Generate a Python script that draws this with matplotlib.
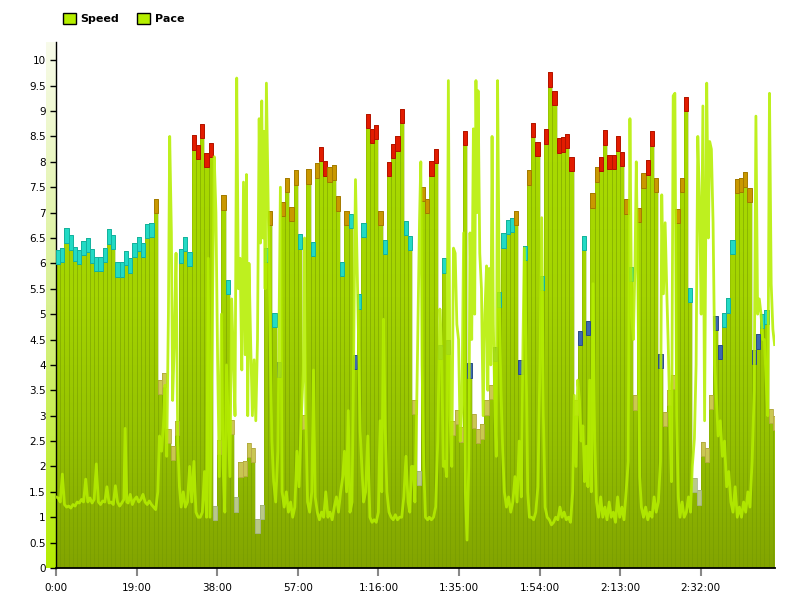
import matplotlib
matplotlib.use("Agg")
import matplotlib.pyplot as plt
import numpy as np
from matplotlib.patches import Patch, PathPatch
from matplotlib.path import Path
from matplotlib.colors import LinearSegmentedColormap, to_rgba

# speed, one bar per minute
speed = [6.27, 6.30, 6.69, 6.55, 6.33, 6.27, 6.45, 6.50, 6.29, 6.12, 6.12, 6.31,
         6.67, 6.56, 6.02, 6.02, 6.25, 6.10, 6.40, 6.52, 6.41, 6.77, 6.80, 7.27,
         3.71, 3.85, 2.74, 2.40, 2.90,
         6.29, 6.52, 6.23, 8.52, 8.34, 8.74, 8.18, 8.38,
         1.23, 2.52, 7.34, 5.68, 2.92, 1.39, 2.08, 2.10, 2.47, 2.36, 0.97, 1.25,
         6.31, 7.04, 5.02, 4.05, 7.21, 7.68, 7.11, 7.83, 6.57,
         3.01, 7.85, 6.42, 7.97, 8.30, 8.01, 7.89, 7.93, 7.32, 6.03, 7.04, 6.97,
         4.20, 5.39, 6.80, 8.94, 8.65, 8.72, 7.04, 6.47, 8.00, 8.36, 8.50, 9.04,
         6.84, 6.54, 3.31, 1.92,
         7.50, 7.27, 8.01, 8.25, 4.39, 6.10, 4.49, 2.90, 3.11, 2.77, 8.61, 4.03,
         3.03, 2.74, 2.83, 3.30, 3.60, 4.35, 5.43, 6.59, 6.86, 6.89, 7.04, 4.10,
         6.35, 7.83, 8.77, 8.40,
         5.76, 8.64, 9.76, 9.39, 8.46, 8.48, 8.55, 8.10, 3.30, 4.67, 6.54, 4.86,
         7.38, 7.89, 8.10, 8.62, 8.14, 8.14, 8.50, 8.20, 7.26, 5.93, 3.40, 7.09,
         7.77, 8.03, 8.60, 7.68, 4.22,
         3.07, 3.50, 3.80, 7.07, 7.69, 9.28, 5.51, 1.78, 1.53, 2.49, 2.37, 3.41,
         4.96, 4.39, 5.02, 5.31, 6.46, 7.66, 7.69, 7.79, 7.49, 4.30, 4.60, 5.00,
         5.08, 3.14, 3.00]

# pace samples (minute, value), by stretch of the ride
pace_a = [(0, 1.40), (0.5, 1.38), (1.0, 1.30), (1.5, 1.85), (2.0, 1.25), (2.5, 1.20),
          (3.0, 1.22), (3.5, 1.18), (4.0, 1.25), (4.5, 1.22), (5.0, 1.30), (5.5, 1.28),
          (6.0, 1.35), (6.5, 1.30), (7.0, 1.75), (7.5, 1.30), (8.0, 1.38), (8.5, 1.28),
          (9.0, 1.35), (9.5, 2.05), (10.0, 1.30), (10.5, 1.25), (11.0, 1.32), (11.5, 1.30),
          (12.0, 1.60), (12.5, 1.28), (13.0, 1.30), (13.5, 1.25), (14.0, 1.62), (14.5, 1.30),
          (15.0, 1.22), (15.5, 1.28), (16.0, 1.35), (16.3, 2.75), (16.7, 1.30), (17.0, 1.28),
          (17.5, 1.45), (18.0, 1.25), (18.5, 1.35), (19.0, 1.40), (19.5, 1.30), (20.0, 1.35),
          (20.5, 1.45), (21.0, 1.30), (21.5, 1.25), (22.0, 1.32), (22.5, 1.25), (23.0, 1.20),
          (23.5, 1.15)]
pace_b = [(24.0, 1.5), (24.4, 2.6), (24.9, 2.3), (25.3, 2.8), (25.7, 3.6), (26.1, 2.2),
          (26.5, 5.0), (26.8, 8.5), (27.2, 6.6), (27.5, 3.3), (27.9, 4.5), (28.3, 6.2),
          (28.7, 2.5), (29.1, 1.6), (29.5, 1.2), (30.0, 1.5), (30.5, 1.2), (31.0, 1.3),
          (31.5, 2.0), (32.0, 1.3), (32.5, 2.1), (33.0, 1.1), (33.5, 1.0), (34.0, 1.0),
          (34.5, 1.1), (35.0, 1.9), (35.5, 1.0), (35.9, 6.1), (36.3, 1.0), (36.8, 4.5),
          (37.3, 8.1), (37.7, 7.0), (38.1, 4.1), (38.5, 1.8), (39.0, 5.0), (39.4, 2.0),
          (39.8, 1.1), (40.2, 4.0), (40.6, 2.9), (41.0, 1.8), (41.4, 5.3), (41.8, 4.2),
          (42.2, 3.0), (42.6, 9.65), (43.0, 5.5), (43.4, 6.1), (43.8, 3.9), (44.2, 7.6),
          (44.6, 4.2), (44.9, 7.75), (45.2, 3.0), (45.5, 6.0), (45.9, 4.4), (46.3, 3.0),
          (46.7, 4.1), (47.1, 2.9), (47.5, 4.5), (47.9, 8.85), (48.2, 6.4), (48.5, 9.2),
          (48.8, 6.5), (49.0, 8.6), (49.3, 5.5), (49.6, 9.55), (50.0, 7.2), (50.4, 5.0),
          (50.9, 2.5), (51.3, 1.7), (51.8, 1.3), (52.3, 2.3), (52.9, 7.5), (53.3, 1.5),
          (53.8, 1.2), (54.3, 1.5), (54.8, 1.1), (55.3, 1.3), (55.8, 1.0), (56.3, 1.2),
          (56.8, 2.3)]
pace_c = [(57.3, 1.6), (57.8, 2.9), (58.3, 3.9), (58.6, 6.5), (58.9, 3.0), (59.3, 1.3),
          (59.8, 1.1), (60.3, 1.5), (60.7, 3.9), (61.1, 1.4), (61.6, 1.1), (62.1, 0.95),
          (62.6, 1.1), (63.1, 1.0), (63.6, 1.5), (64.1, 1.0), (64.6, 1.1), (65.1, 0.95),
          (65.6, 1.2), (66.1, 1.4), (66.6, 1.1), (67.1, 1.5), (67.6, 1.8), (68.0, 2.3),
          (68.5, 1.5), (68.9, 3.1), (69.3, 1.1), (69.8, 1.3), (70.2, 4.5), (70.6, 7.65),
          (71.0, 5.9), (71.3, 4.6), (71.7, 2.7), (72.1, 2.0), (72.5, 1.3), (73.0, 1.5),
          (73.5, 2.6), (74.0, 1.0), (74.5, 0.9), (75.0, 0.95), (75.5, 0.9), (76.0, 1.1),
          (76.4, 2.9), (76.8, 1.5), (77.2, 4.9), (77.6, 2.8), (78.0, 1.5), (78.5, 1.1),
          (79.0, 1.0), (79.5, 0.95), (80.0, 1.05), (80.5, 0.95), (81.0, 1.0), (81.5, 1.0),
          (82.0, 1.4), (82.5, 2.2), (83.0, 1.3), (83.4, 1.1), (83.8, 2.0), (84.2, 2.0),
          (84.6, 1.3), (85.0, 3.0), (85.4, 5.2), (85.7, 6.85), (86.0, 8.0), (86.3, 4.0)]
pace_d = [(86.7, 2.0), (87.1, 1.0), (87.6, 0.95), (88.0, 1.0), (88.5, 0.95), (89.0, 1.0),
          (89.5, 1.2), (90.0, 2.5), (90.5, 5.1), (90.9, 4.35), (91.3, 2.0), (91.7, 2.1),
          (92.1, 1.8), (92.5, 9.6), (92.9, 3.0), (93.3, 2.0), (93.7, 6.3), (94.1, 6.2),
          (94.5, 4.8), (94.9, 4.5), (95.3, 2.5), (95.7, 3.2), (96.1, 6.6), (96.5, 1.5),
          (96.9, 0.55), (97.3, 2.0), (97.6, 6.6), (98.0, 4.5), (98.4, 8.65), (98.7, 5.0),
          (99.0, 9.6), (99.3, 7.0), (99.5, 9.4), (99.9, 6.2), (100.3, 5.5), (100.7, 3.0),
          (101.1, 5.0), (101.5, 5.95), (101.8, 3.5), (102.1, 5.9), (102.5, 4.0), (102.8, 8.5),
          (103.1, 4.8), (103.5, 3.0), (103.8, 2.2), (104.1, 9.6), (104.5, 5.4), (104.9, 3.5),
          (105.3, 2.3), (105.7, 1.5), (106.2, 1.2), (106.7, 1.4), (107.2, 1.1), (107.7, 1.3),
          (108.2, 1.8), (108.7, 1.3), (109.2, 2.5), (109.7, 1.4), (110.1, 4.5), (110.4, 6.3),
          (110.8, 4.5), (111.2, 1.5), (111.6, 1.0), (112.1, 1.0), (112.6, 0.95), (113.1, 1.1),
          (113.6, 1.6)]
pace_e = [(114.1, 4.0), (114.5, 6.9), (114.9, 3.0), (115.3, 1.2), (115.8, 1.0), (116.3, 0.95),
          (116.8, 0.85), (117.3, 0.9), (117.8, 1.0), (118.3, 0.95), (118.8, 1.2), (119.3, 1.0),
          (119.8, 1.1), (120.3, 0.95), (120.8, 1.0), (121.3, 0.9), (121.8, 1.5), (122.2, 3.4),
          (122.6, 2.0), (123.0, 3.7), (123.4, 3.3), (123.8, 2.5), (124.2, 2.8), (124.6, 1.7),
          (125.0, 2.4), (125.4, 1.6), (125.8, 3.7), (126.2, 1.5), (126.6, 5.6), (127.0, 2.5),
          (127.4, 1.3), (127.9, 1.0), (128.4, 1.4), (128.9, 1.0), (129.4, 1.2), (129.9, 0.95),
          (130.4, 1.3), (130.9, 1.0), (131.4, 1.1), (131.9, 0.9), (132.4, 1.4), (132.9, 1.0),
          (133.4, 1.2), (133.9, 0.95), (134.4, 1.5), (134.9, 2.1), (135.3, 8.85), (135.7, 5.0),
          (136.1, 4.5), (136.5, 6.0), (136.8, 8.0), (137.2, 5.4), (137.6, 1.8), (138.0, 1.2),
          (138.5, 1.0), (139.0, 1.2), (139.5, 0.95), (140.0, 1.1), (140.5, 1.0), (141.0, 1.4),
          (141.5, 1.1), (142.0, 1.3), (142.5, 2.1)]
pace_f = [(142.8, 7.35), (143.2, 5.4), (143.6, 6.8), (144.0, 5.4), (144.3, 4.5), (144.7, 3.0),
          (145.1, 1.7), (145.5, 9.3), (145.9, 9.35), (146.3, 3.0), (146.7, 1.4), (147.1, 1.0),
          (147.6, 1.3), (148.1, 1.0), (148.6, 1.1), (149.1, 1.4), (149.6, 1.1), (150.0, 2.0),
          (150.5, 2.55), (150.9, 4.0), (151.3, 8.5), (151.7, 7.2), (152.1, 5.0), (152.5, 9.1),
          (152.9, 2.9), (153.4, 9.55), (153.8, 6.5), (154.1, 8.4), (154.5, 8.25), (154.9, 6.8),
          (155.3, 4.0), (155.7, 3.3), (156.1, 2.6), (156.6, 2.9), (157.1, 2.2), (157.6, 2.5),
          (158.1, 1.6), (158.6, 1.9), (159.1, 1.3), (159.6, 1.1), (160.1, 1.6), (160.6, 1.0),
          (161.1, 1.2), (161.6, 1.0), (162.1, 1.3), (162.6, 1.1), (163.1, 1.5), (163.6, 1.2),
          (164.1, 2.1), (164.6, 3.5), (165.0, 8.9), (165.4, 5.0), (165.8, 5.3), (166.2, 5.0),
          (166.6, 4.5), (167.0, 4.5), (167.4, 3.7), (167.8, 3.0), (168.2, 9.35), (168.6, 5.6),
          (169.0, 4.7), (169.4, 4.4)]

tick_min = [0, 19, 38, 57, 76, 95, 114, 133, 152]
tick_lbl = ["0:00", "19:00", "38:00", "57:00", "1:16:00", "1:35:00", "1:54:00", "2:13:00", "2:32:00"]

# speed zones for the bar caps
zone_edges = [2, 4, 5, 7, 7.99]
zone_face = ["#c9d1b8", "#d8c968", "#3d68b0", "#22dac4", "#c99800", "#e21c00"]
zone_line = ["#a9b39a", "#b8a948", "#2a4d88", "#12b2a0", "#a57a00", "#b41200"]
zone_alpha = [0.75, 0.8, 1, 1, 1, 1]

XMAX, YMAX = 169.5, 10.36
lime = "#b5ee00"

fig = plt.figure(figsize=(8, 6), dpi=100)
ax = fig.add_axes([56 / 800, 32 / 600, 719 / 800, 526 / 600])
ax.set_zorder(2)
ax.patch.set_alpha(0)

# bars with a vertical gradient
x = np.arange(len(speed))
bars = ax.bar(x, speed, width=1.0, align="edge", color="none", edgecolor="none", zorder=2)
paths = [b.get_path().transformed(b.get_patch_transform()) for b in bars]
clip = PathPatch(Path.make_compound_path(*paths), transform=ax.transData,
                 facecolor="none", edgecolor="none")
ax.add_patch(clip)
grad = np.linspace(0, 1, 256).reshape(-1, 1)
gcmap = LinearSegmentedColormap.from_list("g", ["#82a400", "#96c200", "#a4d400", "#a8da00"])
im = ax.imshow(grad, extent=[0, XMAX, 0, 8.0], origin="lower", aspect="auto",
               cmap=gcmap, zorder=1.5, interpolation="bilinear")
im.set_clip_path(clip)
# above 8 the bars keep the brightest green
im2 = ax.imshow(np.ones((2, 2)), extent=[0, XMAX, 8.0, YMAX], origin="lower", aspect="auto",
                cmap=LinearSegmentedColormap.from_list("t", ["#a8da00", "#a8da00"]), zorder=1.5)
im2.set_clip_path(clip)
ax.bar(x, speed, width=1.0, align="edge", color="none",
       edgecolor=(0.45, 0.6, 0.0, 0.35), linewidth=0.6, zorder=2.1)

# coloured caps
cap_h = 0.28
zone = np.digitize(speed, zone_edges)
ax.bar(x, cap_h, width=1.0, bottom=np.array(speed) - cap_h, align="edge",
       color=[to_rgba(zone_face[z], zone_alpha[z]) for z in zone],
       edgecolor=[to_rgba(zone_line[z], zone_alpha[z]) for z in zone],
       linewidth=0.7, zorder=3)

# pace line
pace = pace_a + pace_b + pace_c + pace_d + pace_e + pace_f
pt = [p[0] for p in pace]
pv = [p[1] for p in pace]
ax.plot(pt, pv, color=lime, lw=2.0, zorder=4, solid_joinstyle="round", alpha=0.88)

ax.set_xlim(0, XMAX)
ax.set_ylim(0, YMAX)
for s in ["top", "right"]:
    ax.spines[s].set_visible(False)
ax.spines["left"].set_linewidth(1.0)
ax.spines["bottom"].set_linewidth(1.3)

yt = np.arange(0, 10.01, 0.5)
ax.set_yticks(yt)
ax.set_yticklabels([f"{v:g}" for v in yt])
ax.set_xticks(tick_min)
ax.set_xticklabels(tick_lbl)
ax.tick_params(axis="y", direction="out", length=4.5, width=1, labelsize=7.5, pad=3)
ax.tick_params(axis="x", direction="out", length=6, width=1.5, color="#888888",
               labelsize=7.5, pad=5)

# pale strip left of the axis
ax2 = fig.add_axes([46 / 800, 32 / 600, 10 / 800, 526 / 600])
ax2.set_zorder(1)
ax2.imshow(grad, extent=[0, 1, 0, 1], origin="lower", aspect="auto",
           cmap=LinearSegmentedColormap.from_list("s", ["#b4ec00", "#d8f090", "#f8fbea"]))
ax2.axis("off")

handles = [Patch(facecolor=lime, edgecolor="black", label="Speed"),
           Patch(facecolor=lime, edgecolor="black", label="Pace")]
fig.legend(handles=handles, loc="upper left", bbox_to_anchor=(0.066, 0.995), ncol=2,
           frameon=False, prop={"weight": "bold", "size": 8}, handlelength=1.2,
           handleheight=1.2, handletextpad=0.4, columnspacing=1.6)

fig.savefig("out.png", dpi=100)
